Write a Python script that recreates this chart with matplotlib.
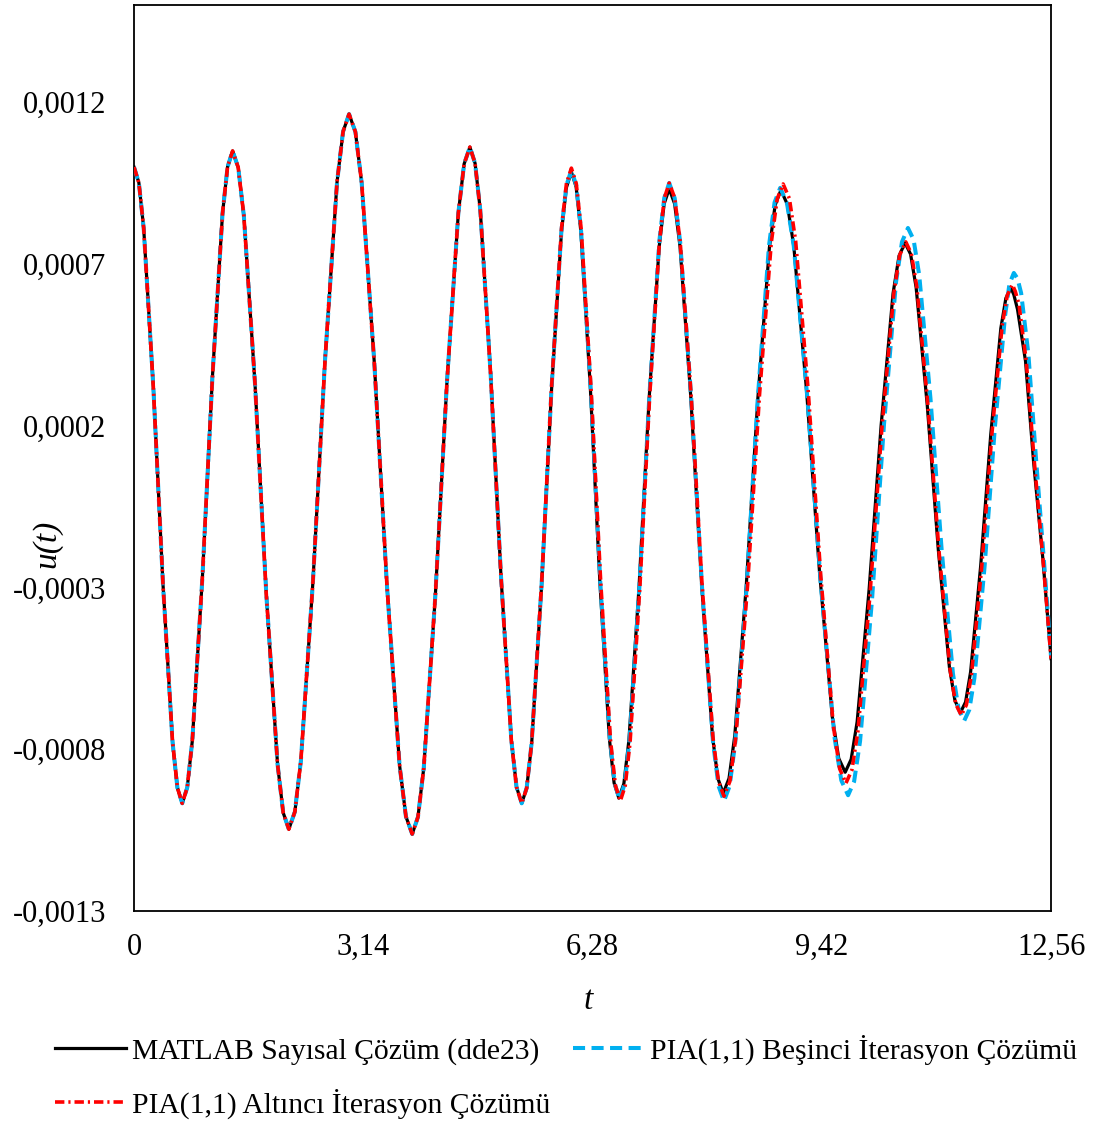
"""
u(t) for the delay equation: MATLAB dde23 solution against the fifth and
sixth PIA(1,1) iterations, 0 <= t <= 12.56. Values read off the original
figure, u given in units of 1e-6.
"""

import matplotlib
matplotlib.use("Agg")
import matplotlib.pyplot as plt
import numpy as np

U_UNIT = 1e-6

# the three solutions lie on top of each other up to the trough at t = 5.31
T_HEAD = [
    0.00, 0.066, 0.132, 0.264, 0.396, 0.528, 0.594,
    0.66, 0.729, 0.798, 0.936, 1.074, 1.212, 1.281,
    1.35, 1.427, 1.504, 1.658, 1.812, 1.966, 2.043,
    2.12, 2.203, 2.285, 2.45, 2.615, 2.78, 2.863,
    2.945, 3.032, 3.118, 3.291, 3.464, 3.637, 3.724,
    3.81, 3.889, 3.968, 4.126, 4.284, 4.442, 4.521,
    4.60, 4.671, 4.742, 4.884, 5.026, 5.168, 5.239,
]
U_HEAD = [
    999, 951, 811, 320, -288, -779, -919,
    -967, -918, -774, -270, 352, 856, 1000,
    1049, 998, 849, 325, -323, -847, -996,
    -1047, -993, -836, -283, 399, 952, 1109,
    1163, 1108, 950, 394, -294, -850, -1008,
    -1062, -1009, -858, -328, 328, 858, 1009,
    1061, 1011, 867, 360, -266, -773, -917,
]

# MATLAB numerical solution (dde23), from t = 5.31
T_MATLAB_TAIL = [
    5.31, 5.378, 5.446, 5.582, 5.718, 5.854, 5.922,
    5.99, 6.055, 6.12, 6.25, 6.38, 6.51, 6.575,
    6.64, 6.709, 6.778, 6.916, 7.054, 7.192, 7.261,
    7.33, 7.404, 7.478, 7.626, 7.774, 7.922, 7.996,
    8.07, 8.149, 8.228, 8.386, 8.544, 8.702, 8.781,
    8.86, 8.948, 9.036, 9.212, 9.388, 9.564, 9.652,
    9.74, 9.822, 9.904, 10.068, 10.232, 10.396, 10.478,
    10.56, 10.636, 10.712, 10.864, 11.016, 11.168, 11.244,
    11.32, 11.389, 11.458, 11.596, 11.734, 11.872, 11.941,
    12.01, 12.05, 12.10, 12.21, 12.32, 12.45, 12.56,
]
U_MATLAB_TAIL = [
    -967, -920, -782, -294, 310, 798, 936,
    984, 938, 800, 316, -282, -766, -904,
    -951, -906, -772, -301, 281, 752, 886,
    932, 886, 754, 287, -291, -758, -890,
    -936, -890, -758, -292, 284, 750, 882,
    928, 884, 756, 306, -250, -700, -828,
    -871, -831, -715, -306, 200, 609, 725,
    765, 730, 627, 264, -184, -547, -650,
    -686, -654, -561, -233, 173, 501, 594,
    626, 605, 560, 400, 90, -217, -520,
]

# PIA(1,1) fifth iteration, from t = 5.31
T_PIA5_TAIL = [
    5.31, 5.378, 5.446, 5.582, 5.718, 5.854, 5.922,
    5.99, 6.056, 6.122, 6.254, 6.386, 6.518, 6.584,
    6.65, 6.718, 6.786, 6.922, 7.058, 7.194, 7.262,
    7.33, 7.405, 7.48, 7.63, 7.78, 7.93, 8.005,
    8.08, 8.157, 8.234, 8.388, 8.542, 8.696, 8.773,
    8.85, 8.943, 9.036, 9.222, 9.408, 9.594, 9.687,
    9.78, 9.862, 9.944, 10.108, 10.272, 10.436, 10.518,
    10.60, 10.677, 10.754, 10.908, 11.062, 11.216, 11.293,
    11.37, 11.44, 11.51, 11.65, 11.79, 11.93, 11.99,
    12.05, 12.10, 12.15, 12.25, 12.35, 12.46, 12.56,
]
U_PIA5_TAIL = [
    -967, -919, -780, -291, 315, 804, 943,
    990, 943, 805, 319, -283, -769, -907,
    -955, -908, -773, -296, 292, 769, 904,
    950, 903, 768, 290, -300, -778, -913,
    -960, -914, -779, -305, 281, 755, 890,
    935, 888, 755, 286, -294, -763, -896,
    -942, -900, -775, -337, 205, 643, 768,
    811, 775, 666, 285, -185, -566, -675,
    -712, -678, -580, -234, 194, 540, 638,
    672, 655, 610, 420, 110, -210, -515,
]

# PIA(1,1) sixth iteration, from t = 5.31
T_PIA6_TAIL = [
    5.31, 5.378, 5.446, 5.582, 5.718, 5.854, 5.922,
    5.99, 6.057, 6.124, 6.258, 6.392, 6.526, 6.593,
    6.66, 6.727, 6.794, 6.928, 7.062, 7.196, 7.263,
    7.33, 7.405, 7.48, 7.63, 7.78, 7.93, 8.005,
    8.08, 8.161, 8.242, 8.404, 8.566, 8.728, 8.809,
    8.89, 8.976, 9.062, 9.234, 9.406, 9.578, 9.664,
    9.75, 9.832, 9.914, 10.078, 10.242, 10.406, 10.488,
    10.57, 10.646, 10.722, 10.874, 11.026, 11.178, 11.254,
    11.33, 11.40, 11.47, 11.61, 11.75, 11.89, 11.96,
    12.03, 12.07, 12.12, 12.22, 12.33, 12.45, 12.56,
]
U_PIA6_TAIL = [
    -967, -920, -780, -289, 317, 808, 948,
    996, 948, 809, 320, -284, -773, -912,
    -960, -913, -778, -300, 290, 768, 903,
    950, 904, 769, 295, -291, -765, -900,
    -945, -899, -764, -291, 293, 766, 901,
    947, 902, 770, 307, -265, -728, -860,
    -905, -864, -745, -327, 191, 609, 728,
    768, 732, 628, 262, -190, -556, -660,
    -695, -663, -569, -236, 176, 509, 603,
    636, 615, 575, 400, 90, -215, -520,
]

X_TICKS = [0, 3.14, 6.28, 9.42, 12.56]
X_TICK_LABELS = ["0", "3,14", "6,28", "9,42", "12,56"]
Y_TICKS = [-0.0013, -0.0008, -0.0003, 0.0002, 0.0007, 0.0012]
Y_TICK_LABELS = ["-0,0013", "-0,0008", "-0,0003", "0,0002", "0,0007", "0,0012"]

LABEL_MATLAB = "MATLAB Sayısal Çözüm (dde23)"
LABEL_PIA5 = "PIA(1,1) Beşinci İterasyon Çözümü"
LABEL_PIA6 = "PIA(1,1) Altıncı İterasyon Çözümü"

plt.rcParams["font.family"] = ["Liberation Serif", "DejaVu Serif"]
FS = 22


def series(t_tail, u_tail):
    t = np.array(T_HEAD + t_tail)
    u = np.array(U_HEAD + u_tail) * U_UNIT
    return t, u


fig = plt.figure(figsize=(10.96, 11.22), dpi=100)
ax = fig.add_axes([0.1223, 0.188, 0.8367, 0.8075])

t, u = series(T_MATLAB_TAIL, U_MATLAB_TAIL)
l_mat, = ax.plot(t, u, color="black", linewidth=2.3, label=LABEL_MATLAB,
                 zorder=2)
t, u = series(T_PIA5_TAIL, U_PIA5_TAIL)
l_p5, = ax.plot(t, u, color="#00B0F0", linewidth=2.9, dashes=(3.0, 1.6),
                label=LABEL_PIA5, zorder=3)
t, u = series(T_PIA6_TAIL, U_PIA6_TAIL)
l_p6, = ax.plot(t, u, color="#FF0000", linewidth=2.6,
                dashes=(2.6, 1.1, 0.6, 1.1), label=LABEL_PIA6, zorder=4)

ax.set_xlim(0, 12.56)
ax.set_ylim(-0.0013, 0.0015)
ax.set_xticks(X_TICKS)
ax.set_xticklabels(X_TICK_LABELS)
ax.set_yticks(Y_TICKS)
ax.set_yticklabels(Y_TICK_LABELS)
ax.tick_params(axis="both", length=0, labelsize=FS)
ax.tick_params(axis="y", pad=20)
ax.tick_params(axis="x", pad=16)
for sp in ax.spines.values():
    sp.set_color("black")
    sp.set_linewidth(1.3)

ax.set_xlabel("t", fontsize=FS + 2, style="italic")
ax.set_ylabel("u(t)", fontsize=FS + 2, style="italic")
ax.xaxis.set_label_coords(0.495, -0.082)
ax.yaxis.set_label_coords(-0.078, 0.405)

# order gives row 1: MATLAB, PIA5 ; row 2: PIA6
fig.legend(handles=[l_mat, l_p6, l_p5], loc="upper left",
           bbox_to_anchor=(0.050, 0.078), ncol=2, frameon=False,
           fontsize=21.3, handlelength=2.4, handletextpad=0.22,
           columnspacing=0.75, labelspacing=0.8, borderpad=0,
           borderaxespad=0)

fig.savefig("out.png", dpi=100)
